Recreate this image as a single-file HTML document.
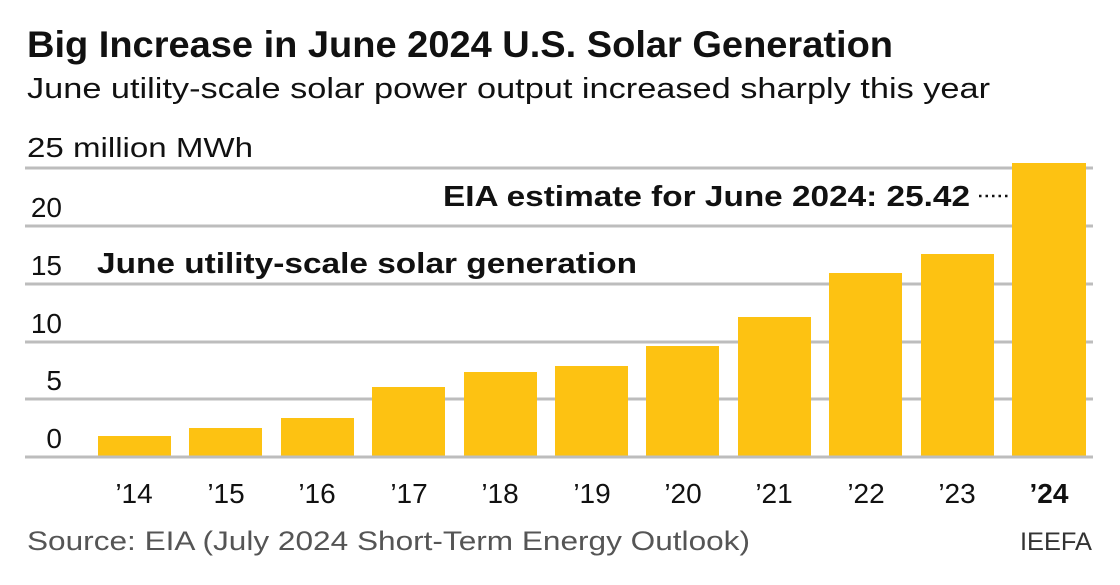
<!DOCTYPE html>
<html><head><meta charset="utf-8"><style>
html,body{margin:0;padding:0;background:#fff;}
svg{display:block;font-family:"Liberation Sans",sans-serif;}
</style></head><body>
<svg width="1120" height="585" viewBox="0 0 1120 585" xmlns="http://www.w3.org/2000/svg">
<rect width="1120" height="585" fill="#fff"/>
<text x="27" y="57" font-size="37" font-weight="bold" fill="#111" textLength="866" lengthAdjust="spacingAndGlyphs">Big Increase in June 2024 U.S. Solar Generation</text>
<text x="27" y="98" font-size="29" fill="#111" textLength="963" lengthAdjust="spacingAndGlyphs">June utility-scale solar power output increased sharply this year</text>
<g stroke="#bdbdbd" stroke-width="3">
<line x1="25" x2="1093" y1="168" y2="168"/>
<line x1="25" x2="1093" y1="226" y2="226"/>
<line x1="25" x2="1093" y1="284" y2="284"/>
<line x1="25" x2="1093" y1="342" y2="342"/>
<line x1="25" x2="1093" y1="399" y2="399"/>
</g>
<g font-size="28" fill="#111">
<text x="27" y="157" textLength="226" lengthAdjust="spacingAndGlyphs">25 million MWh</text>
<text x="62" y="217" text-anchor="end">20</text>
<text x="62" y="275" text-anchor="end">15</text>
<text x="62" y="333" text-anchor="end">10</text>
<text x="62" y="390" text-anchor="end">5</text>
<text x="62" y="448" text-anchor="end">0</text>
</g>
<g fill="#fdc212">
<rect x="98" y="436" width="73" height="21"/>
<rect x="189" y="428" width="73" height="29"/>
<rect x="281" y="418" width="73" height="39"/>
<rect x="372" y="387" width="73" height="70"/>
<rect x="464" y="372" width="73" height="85"/>
<rect x="555" y="366" width="73" height="91"/>
<rect x="646" y="346" width="73" height="111"/>
<rect x="738" y="317" width="73" height="140"/>
<rect x="829" y="273" width="73" height="184"/>
<rect x="921" y="254" width="73" height="203"/>
<rect x="1012" y="163" width="74" height="294"/>
</g>
<line x1="25" x2="1093" y1="457" y2="457" stroke="#bdbdbd" stroke-width="3"/>
<text x="443" y="206" font-size="29" font-weight="bold" fill="#111" textLength="527" lengthAdjust="spacingAndGlyphs">EIA estimate for June 2024: 25.42</text>
<line x1="979" x2="1008" y1="196" y2="196" stroke="#111" stroke-width="2.5" stroke-dasharray="2.5 4"/>
<text x="97" y="273" font-size="29" font-weight="bold" fill="#111" textLength="540" lengthAdjust="spacingAndGlyphs">June utility-scale solar generation</text>
<g font-size="28" fill="#111" text-anchor="middle">
<text x="134" y="503">’14</text>
<text x="226" y="503">’15</text>
<text x="317" y="503">’16</text>
<text x="409" y="503">’17</text>
<text x="500" y="503">’18</text>
<text x="592" y="503">’19</text>
<text x="683" y="503">’20</text>
<text x="774" y="503">’21</text>
<text x="866" y="503">’22</text>
<text x="957" y="503">’23</text>
<text x="1049" y="503" font-weight="bold">’24</text>
</g>
<text x="27" y="550" font-size="27" fill="#555" textLength="723" lengthAdjust="spacingAndGlyphs">Source: EIA (July 2024 Short-Term Energy Outlook)</text>
<text x="1092" y="550" font-size="25" fill="#333" text-anchor="end" textLength="72" lengthAdjust="spacingAndGlyphs">IEEFA</text>
</svg>
</body></html>
